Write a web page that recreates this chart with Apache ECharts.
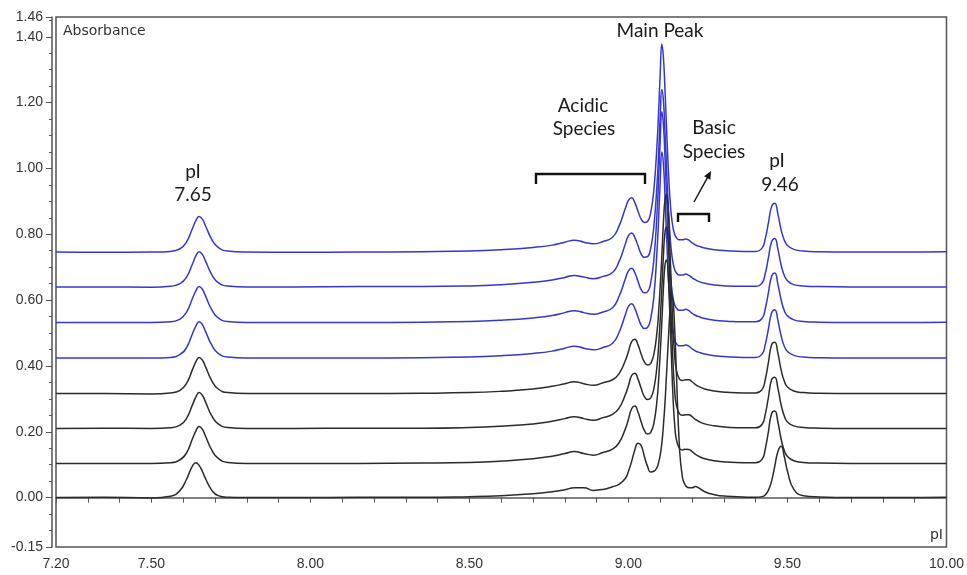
<!DOCTYPE html>
<html>
<head>
<meta charset="utf-8">
<script src="https://cdn.jsdelivr.net/npm/echarts@6/dist/echarts.min.js"></script>
<style>
html,body{margin:0;padding:0;background:#fff;}
#chart{width:967px;height:575px;}
</style>
</head>
<body>
<div id="chart"></div>
<script>
// pI axis sample positions shared by all traces
const X = [7.20,7.35,7.50,7.56,7.59,7.61,7.63,7.64,7.65,7.66,
  7.67,7.69,7.71,7.74,7.80,7.95,8.15,8.35,8.50,8.60,
  8.70,8.76,8.80,8.83,8.86,8.89,8.92,8.95,8.97,8.99,
  9.00,9.01,9.02,9.03,9.04,9.05,9.06,9.07,9.08,9.09,
  9.095,9.10,9.105,9.11,9.115,9.12,9.125,9.13,9.135,9.14,
  9.145,9.15,9.16,9.17,9.18,9.19,9.20,9.21,9.22,9.24,
  9.27,9.31,9.36,9.40,9.42,9.43,9.44,9.45,9.46,9.47,
  9.48,9.49,9.50,9.52,9.55,9.60,9.70,9.85,10.00];

// vertical display offset of each stacked trace (bottom to top)
const offsets = [0, 0.104, 0.210, 0.316, 0.424, 0.532, 0.640, 0.746];

// absorbance above each trace's own baseline
const trace0 = [0.000,0.001,-0.001,0.004,0.022,0.055,0.098,0.106,0.098,0.080,
 0.058,0.022,0.006,0.001,0.000,0.000,0.001,0.001,0.003,0.006,
 0.012,0.018,0.024,0.030,0.030,0.022,0.025,0.033,0.040,0.058,
 0.080,0.110,0.145,0.165,0.158,0.125,0.095,0.078,0.080,0.092,
 0.108,0.130,0.165,0.220,0.290,0.380,0.470,0.560,0.612,0.598,
 0.520,0.400,0.160,0.060,0.036,0.030,0.030,0.034,0.030,0.018,
 0.009,0.004,0.002,0.001,0.003,0.008,0.022,0.050,0.095,0.140,
 0.156,0.125,0.080,0.025,0.006,0.002,0.000,0.000,0.001];
const trace1 = [0.000,0.000,0.000,0.002,0.011,0.031,0.077,0.099,0.112,0.104,
 0.083,0.040,0.015,0.003,0.000,0.000,0.000,0.001,0.003,0.007,
 0.014,0.022,0.030,0.036,0.030,0.025,0.033,0.043,0.062,0.104,
 0.134,0.166,0.174,0.156,0.126,0.100,0.089,0.094,0.122,0.194,
 0.256,0.338,0.430,0.532,0.603,0.618,0.572,0.460,0.326,0.204,
 0.122,0.076,0.046,0.041,0.043,0.042,0.036,0.028,0.022,0.014,
 0.008,0.004,0.002,0.002,0.012,0.043,0.096,0.151,0.159,0.125,
 0.074,0.039,0.021,0.008,0.003,0.001,0.000,0.000,0.000];
const trace2 = [0.000,0.001,0.000,0.002,0.010,0.030,0.074,0.096,0.109,0.101,
 0.081,0.038,0.014,0.003,0.000,0.000,0.001,0.001,0.003,0.007,
 0.014,0.022,0.030,0.036,0.030,0.025,0.033,0.043,0.061,0.102,
 0.130,0.161,0.168,0.150,0.122,0.097,0.088,0.093,0.121,0.192,
 0.253,0.334,0.425,0.526,0.597,0.612,0.566,0.455,0.323,0.202,
 0.121,0.075,0.045,0.040,0.042,0.042,0.036,0.028,0.022,0.014,
 0.008,0.004,0.002,0.002,0.012,0.042,0.094,0.148,0.156,0.122,
 0.072,0.038,0.020,0.008,0.003,0.001,0.000,0.000,0.000];
const trace3 = [0.000,0.000,-0.001,0.002,0.010,0.030,0.075,0.097,0.110,0.102,
 0.082,0.039,0.014,0.003,0.000,0.000,0.000,0.001,0.003,0.007,
 0.014,0.022,0.030,0.036,0.030,0.025,0.033,0.042,0.060,0.100,
 0.128,0.158,0.165,0.148,0.120,0.096,0.087,0.092,0.120,0.190,
 0.250,0.330,0.420,0.520,0.590,0.605,0.560,0.450,0.320,0.200,
 0.120,0.075,0.045,0.040,0.042,0.042,0.036,0.028,0.022,0.014,
 0.008,0.004,0.002,0.002,0.012,0.042,0.094,0.148,0.156,0.122,
 0.072,0.038,0.020,0.008,0.003,0.001,0.000,0.000,0.000];
const trace4 = [0.000,0.000,0.000,0.002,0.011,0.031,0.076,0.098,0.110,0.102,
 0.081,0.039,0.014,0.003,0.000,0.000,0.000,0.001,0.003,0.007,
 0.014,0.021,0.030,0.036,0.030,0.025,0.032,0.045,0.077,0.131,
 0.157,0.165,0.151,0.125,0.100,0.090,0.093,0.120,0.188,0.328,
 0.428,0.540,0.626,0.588,0.488,0.368,0.258,0.170,0.110,0.075,
 0.055,0.045,0.037,0.037,0.040,0.036,0.028,0.022,0.018,0.012,
 0.007,0.004,0.002,0.002,0.012,0.040,0.088,0.137,0.147,0.114,
 0.068,0.036,0.020,0.008,0.003,0.001,0.000,0.000,0.000];
const trace5 = [0.000,0.000,0.000,0.002,0.010,0.031,0.075,0.097,0.109,0.101,
 0.081,0.038,0.014,0.003,0.000,0.000,0.000,0.001,0.003,0.007,
 0.014,0.021,0.030,0.036,0.030,0.025,0.032,0.045,0.078,0.132,
 0.157,0.165,0.151,0.125,0.100,0.090,0.093,0.121,0.192,0.335,
 0.440,0.555,0.640,0.600,0.500,0.378,0.265,0.172,0.112,0.076,
 0.055,0.045,0.037,0.037,0.040,0.036,0.028,0.022,0.018,0.012,
 0.007,0.004,0.002,0.002,0.012,0.041,0.090,0.140,0.150,0.116,
 0.069,0.036,0.020,0.008,0.003,0.001,0.000,0.000,0.001];
const trace6 = [0.000,0.000,-0.001,0.002,0.010,0.029,0.072,0.095,0.107,0.099,
 0.079,0.037,0.013,0.003,0.000,0.000,0.001,0.001,0.003,0.007,
 0.014,0.021,0.029,0.035,0.030,0.025,0.032,0.044,0.076,0.130,
 0.156,0.164,0.150,0.125,0.100,0.090,0.092,0.118,0.185,0.315,
 0.410,0.520,0.600,0.565,0.470,0.355,0.250,0.165,0.108,0.074,
 0.054,0.044,0.036,0.036,0.039,0.035,0.028,0.022,0.017,0.011,
 0.006,0.003,0.002,0.002,0.012,0.040,0.088,0.137,0.147,0.114,
 0.067,0.035,0.019,0.007,0.003,0.001,0.000,0.000,0.000];
const trace7 = [0.000,-0.001,0.000,0.002,0.010,0.030,0.074,0.096,0.108,0.100,
 0.080,0.038,0.014,0.003,0.000,-0.001,0.000,0.001,0.003,0.007,
 0.014,0.021,0.030,0.036,0.030,0.025,0.032,0.045,0.078,0.132,
 0.157,0.165,0.150,0.124,0.100,0.090,0.093,0.120,0.190,0.330,
 0.430,0.545,0.632,0.590,0.490,0.370,0.260,0.170,0.110,0.075,
 0.055,0.045,0.037,0.037,0.040,0.036,0.028,0.022,0.018,0.012,
 0.007,0.004,0.002,0.002,0.012,0.040,0.088,0.138,0.148,0.115,
 0.068,0.036,0.020,0.008,0.003,0.001,0.000,0.000,0.001];

const traces = [trace0, trace1, trace2, trace3, trace4, trace5, trace6, trace7];
const xLabelValues = [7.2, 7.5, 8.0, 8.5, 9.0, 9.5, 10.0];
const yLabelValues = [-0.15, 0.0, 0.2, 0.4, 0.6, 0.8, 1.0, 1.2, 1.4, 1.46];

const yMinorTicks = [];
for (let k = 0; k <= 32; k++) yMinorTicks.push(Math.round((-0.15 + k * 0.05) * 100) / 100);

const BLUE = '#3636d4';
const BLACK = '#2b2b2b';
const AXIS = '#555555';
const LABEL_FONT = 'Liberation Sans, Arial, sans-serif';
const NOTE_FONT = 'Lato, "Open Sans", sans-serif';

// draw blue traces first, black on top
const order = [7, 6, 5, 4, 3, 2, 1, 0];
const series = order.map(i => ({
  type: 'line',
  name: 'trace' + i,
  xAxisIndex: 0,
  yAxisIndex: 0,
  data: X.map((x, j) => [x, offsets[i] + traces[i][j]]),
  showSymbol: false,
  symbol: 'none',
  smooth: 0.5,
  lineStyle: { width: 1.5, color: i >= 4 ? BLUE : BLACK },
  silent: true,
  z: i >= 4 ? 2 : 3
}));

const chart = echarts.init(document.getElementById('chart'), null, { renderer: 'canvas' });

const note = (text, x, y, extra) => Object.assign({
  type: 'text', x: x, y: y,
  style: { text: text, font: '19px ' + NOTE_FONT, fill: '#1a1a1a', align: 'center', verticalAlign: 'middle' },
  z: 10
}, extra || {});

const bracket = (x1, x2, yTop, yLeg) => ({
  type: 'polyline',
  shape: { points: [[x1, yLeg], [x1, yTop], [x2, yTop], [x2, yLeg]] },
  style: { stroke: '#111', lineWidth: 2.4, fill: null, lineJoin: 'miter' },
  z: 10
});

chart.setOption({
  animation: false,
  backgroundColor: '#ffffff',
  grid: {
    left: 56, right: 20, top: 17, bottom: 28,
    show: true, borderColor: AXIS, borderWidth: 1.5, backgroundColor: 'transparent'
  },
  xAxis: [{
    type: 'value', min: 7.2, max: 10, interval: 0.1, position: 'bottom', offset: 3,
    axisLine: { show: true, lineStyle: { color: AXIS, width: 1.5 } },
    axisTick: { show: true, length: 5, lineStyle: { color: AXIS, width: 1 } },
    axisLabel: {
      customValues: xLabelValues, margin: 7,
      formatter: v => Number(v).toFixed(2),
      fontSize: 14, fontFamily: LABEL_FONT, color: '#333'
    },
    splitLine: { show: false }
  }],
  yAxis: [{
    type: 'value', min: -0.15, max: 1.46, position: 'left', offset: 4,
    axisLine: { show: true, lineStyle: { color: AXIS, width: 1.5 } },
    axisTick: { show: true, customValues: yLabelValues, length: 6, lineStyle: { color: AXIS, width: 1 } },
    axisLabel: {
      customValues: yLabelValues, margin: 9,
      formatter: v => Number(v).toFixed(2),
      fontSize: 14, fontFamily: LABEL_FONT, color: '#333'
    },
    splitLine: { show: false }
  }, {
    type: 'value', min: -0.15, max: 1.46, position: 'left', offset: 4,
    axisLine: { show: false },
    axisTick: { show: true, customValues: yMinorTicks, length: 3, lineStyle: { color: AXIS, width: 1 } },
    axisLabel: { show: false },
    splitLine: { show: false }
  }],
  series: series,
  graphic: [
    { type: 'text', x: 63, y: 31, style: { text: 'Absorbance', font: '14px "DejaVu Sans", sans-serif', fill: '#333', align: 'left', verticalAlign: 'middle' }, z: 10 },
    { type: 'text', x: 943, y: 535, style: { text: 'pI', font: '14px "DejaVu Sans", sans-serif', fill: '#333', align: 'right', verticalAlign: 'middle' }, z: 10 },
    note('Main Peak', 660, 31),
    note('Acidic', 583, 106),
    note('Species', 584, 129),
    note('Basic', 714, 128),
    note('Species', 714, 152),
    note('pI', 193, 172),
    note('7.65', 193, 195),
    note('pI', 777, 161),
    note('9.46', 780, 185),
    bracket(536, 645, 174, 184),
    bracket(678, 709, 214, 222),
    { type: 'line', shape: { x1: 694, y1: 202, x2: 707.3, y2: 177.8 }, style: { stroke: '#111', lineWidth: 1.4 }, z: 10 },
    { type: 'polygon', shape: { points: [[711, 171], [710.3, 179.7], [704.1, 176.3]] }, style: { fill: '#111' }, z: 10 }
  ]
});
</script>
</body>
</html>
